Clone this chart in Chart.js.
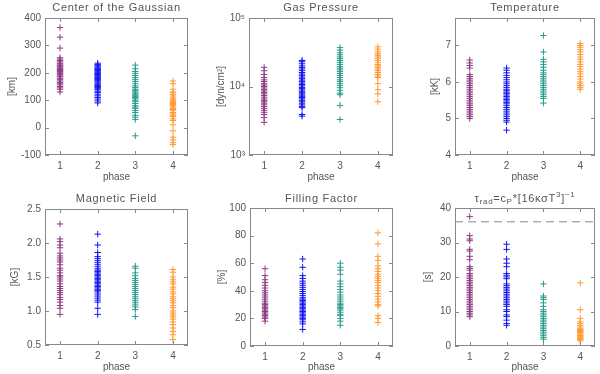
<!DOCTYPE html>
<html>
<head>
<meta charset="utf-8">
<script src="https://cdn.jsdelivr.net/npm/chart.js@4/dist/chart.umd.min.js"></script>
<style>
  body { margin: 0; background: #fff; }
  #wrap { position: relative; width: 600px; height: 374px; }
  canvas { position: absolute; }
</style>
</head>
<body>
<div id="wrap">
  <canvas id="p1" width="200" height="187" style="left:0;top:0"></canvas>
  <canvas id="p2" width="200" height="187" style="left:200px;top:0"></canvas>
  <canvas id="p3" width="200" height="187" style="left:400px;top:0"></canvas>
  <canvas id="p4" width="200" height="187" style="left:0;top:187px"></canvas>
  <canvas id="p5" width="200" height="187" style="left:200px;top:187px"></canvas>
  <canvas id="p6" width="200" height="187" style="left:400px;top:187px"></canvas>
</div>
<script>
const phases = [1, 2, 3, 4];
const phaseColors = ['#8e3b84', '#1414f0', '#2a9a8c', '#ff9933'];

// Center of the Gaussian [km]
const centerPh1 = [365, 330, 290, 255, 250, 245, 240, 235, 232, 228, 225, 222, 218, 215, 212, 208, 205, 202, 198, 195, 192, 188, 185, 180, 175, 170, 165, 160, 156, 150, 145, 140, 130];
const centerPh2 = [235, 230, 226, 222, 218, 215, 212, 209, 206, 203, 200, 197, 194, 191, 188, 185, 182, 179, 176, 173, 170, 166, 162, 158, 154, 150, 146, 142, 138, 133, 128, 122, 116, 110, 104, 97, 90];
const centerPh3 = [228, 215, 205, 198, 190, 182, 175, 168, 160, 152, 146, 140, 135, 130, 126, 122, 118, 114, 110, 105, 100, 95, 88, 80, 75, 70, 62, 55, 45, 38, 30, -30];
const centerPh4 = [170, 160, 140, 130, 127, 120, 115, 108, 104, 100, 96, 92, 88, 84, 80, 75, 70, 66, 62, 55, 50, 45, 40, 32, 26, 10, -12, -35, -45, -55, -62];

// Gas pressure [dyn/cm2]
const pressPh1 = [19000, 17000, 15000, 13500, 12500, 11800, 11000, 10500, 10000, 9500, 9000, 8600, 8200, 7800, 7400, 7000, 6600, 6300, 6000, 5700, 5400, 5100, 4800, 4500, 4200, 3900, 3500, 3000];
const pressPh2 = [24000, 23000, 21500, 20000, 19000, 18000, 17000, 16000, 15200, 14400, 13700, 13000, 12400, 11800, 11200, 10700, 10200, 9700, 9300, 8900, 8500, 8100, 7800, 7500, 7200, 6900, 6600, 6300, 6000, 5700, 5400, 5100, 4900, 3900, 3700];
const pressPh3 = [37000, 34000, 31000, 29000, 27000, 25500, 24000, 22500, 21000, 19500, 18500, 17500, 16500, 15500, 14500, 13500, 12500, 11800, 11000, 10300, 9600, 8800, 8000, 7600, 5300, 3300];
const pressPh4 = [38000, 35000, 32000, 30000, 28500, 27000, 25500, 24000, 22500, 21000, 20000, 19000, 18000, 17000, 16000, 15000, 14200, 13500, 11000, 9000, 7800, 6000];

// Temperature [kK]
const tempPh1 = [6.6, 6.52, 6.45, 6.38, 6.2, 6.15, 6.1, 6.05, 6.0, 5.95, 5.9, 5.85, 5.8, 5.75, 5.7, 5.65, 5.6, 5.55, 5.5, 5.45, 5.4, 5.35, 5.3, 5.25, 5.2, 5.15, 5.1, 5.05, 5.0];
const tempPh2 = [6.38, 6.32, 6.25, 6.18, 6.12, 6.06, 6.0, 5.95, 5.9, 5.85, 5.8, 5.76, 5.72, 5.68, 5.64, 5.6, 5.56, 5.52, 5.48, 5.44, 5.4, 5.35, 5.3, 5.25, 5.2, 5.15, 5.1, 5.05, 5.0, 4.95, 4.9, 4.68];
const tempPh3 = [7.27, 6.82, 6.62, 6.55, 6.48, 6.4, 6.32, 6.25, 6.2, 6.15, 6.1, 6.05, 6.0, 5.95, 5.9, 5.85, 5.8, 5.75, 5.7, 5.65, 5.6, 5.55, 5.42];
const tempPh4 = [7.05, 7.0, 6.95, 6.88, 6.82, 6.75, 6.68, 6.62, 6.55, 6.48, 6.42, 6.35, 6.28, 6.22, 6.15, 6.08, 6.0, 5.95, 5.9, 5.85, 5.8];

// Magnetic field [kG]
const fieldPh1 = [2.28, 2.06, 2.02, 1.97, 1.93, 1.85, 1.81, 1.78, 1.75, 1.72, 1.68, 1.63, 1.6, 1.56, 1.52, 1.5, 1.47, 1.44, 1.4, 1.36, 1.33, 1.3, 1.27, 1.24, 1.2, 1.17, 1.13, 1.08, 1.04, 0.95];
const fieldPh2 = [2.13, 1.97, 1.86, 1.8, 1.77, 1.74, 1.71, 1.68, 1.65, 1.62, 1.6, 1.58, 1.56, 1.54, 1.52, 1.5, 1.48, 1.46, 1.44, 1.42, 1.4, 1.38, 1.36, 1.34, 1.32, 1.3, 1.28, 1.25, 1.22, 1.19, 1.16, 1.13, 1.04, 0.95];
const fieldPh3 = [1.66, 1.63, 1.56, 1.52, 1.48, 1.45, 1.42, 1.39, 1.36, 1.33, 1.3, 1.27, 1.24, 1.21, 1.18, 1.15, 1.12, 1.09, 1.06, 1.02, 0.92];
const fieldPh4 = [1.61, 1.57, 1.5, 1.46, 1.43, 1.4, 1.35, 1.32, 1.28, 1.25, 1.21, 1.18, 1.15, 1.12, 1.08, 1.05, 1.0, 0.97, 0.94, 0.91, 0.88, 0.84, 0.8, 0.75, 0.7, 0.65, 0.58];

// Filling factor [%]
const fillPh1 = [56, 51, 48, 46, 44, 42, 40, 38.5, 37, 35.5, 34, 32.5, 31, 30, 29, 28, 27, 26, 25, 24, 23, 22, 21, 20, 18];
const fillPh2 = [63, 57, 51, 49, 47, 45.5, 44, 42.5, 41, 39.5, 38, 36.5, 35, 34, 33, 32, 31, 30, 29, 28, 27, 26, 25, 24, 23, 22, 21, 20, 19, 17.5, 16, 12];
const fillPh3 = [60, 57, 55, 52, 47, 45, 43, 41, 39, 37, 35.5, 34, 32.5, 31, 30, 29, 28, 27, 26, 24.5, 23, 22, 20, 18, 15];
const fillPh4 = [82, 74, 65, 62, 58, 56, 54, 52, 50.5, 49, 47.5, 46, 44, 42, 40, 38, 36, 34, 32, 30, 29, 22, 20, 17];

// Radiative cooling time [s]
const tauPh1 = [37.5, 32, 31, 30.5, 28, 27.5, 26, 25, 23, 22.5, 22, 21, 20.5, 20, 19.5, 19, 18.5, 18, 17.5, 17, 16.5, 16, 15.5, 15, 14.5, 14, 13.5, 13, 12.5, 12, 11.5, 11, 10.5, 10, 9.5, 9, 8.5];
const tauPh2 = [29.5, 28, 25.2, 24, 23, 21, 20.5, 20, 19.5, 18, 17.5, 17, 16.5, 16, 15.5, 15, 14.5, 14, 13.5, 13, 12.5, 12, 11.5, 10.5, 10, 9, 8.5, 7.5, 6.5, 6];
const tauPh3 = [18, 14.5, 14, 13.5, 12.5, 11.5, 10.5, 10, 9.5, 9, 8.5, 8, 7.5, 7, 6.5, 6, 5.5, 5, 4.5, 4, 3.5, 3, 2.5, 2];
const tauPh4 = [18.3, 10.5, 8, 7, 6.5, 6, 5.5, 5, 4.8, 4.5, 4.2, 4, 3.8, 3.5, 3.2, 3, 2.8, 2.5, 2.2, 2, 1.8, 1.5];
const tauLimit = 36;

const textColor = '#555';
const axisColor = '#888';
const fontFam = '"Liberation Sans", Arial, sans-serif';

// box around plot area with inward ticks (IDL style) + rich-text title
const framePlugin = {
  id: 'frame',
  afterDraw(chart) {
    const { ctx, chartArea: a, scales: { x, y } } = chart;
    const o = chart.options.plugins.frame;
    ctx.save();
    ctx.strokeStyle = axisColor;
    ctx.lineWidth = 1;
    ctx.strokeRect(a.left + 0.5, a.top + 0.5, a.right - a.left - 1, a.bottom - a.top - 1);
    ctx.beginPath();
    x.ticks.forEach(t => {
      const px = Math.round(x.getPixelForValue(t.value)) + 0.5;
      ctx.moveTo(px, a.bottom); ctx.lineTo(px, a.bottom - 4);
      ctx.moveTo(px, a.top); ctx.lineTo(px, a.top + 4);
    });
    y.ticks.forEach(t => {
      const py = Math.round(y.getPixelForValue(t.value)) + 0.5;
      ctx.moveTo(a.left, py); ctx.lineTo(a.left + 4, py);
      ctx.moveTo(a.right, py); ctx.lineTo(a.right - 4, py);
    });
    ctx.stroke();

    // title, pieces can be sub/superscript
    const big = 11, small = 8;
    ctx.fillStyle = textColor;
    ctx.textBaseline = 'middle';
    ctx.letterSpacing = '0.7px';
    let w = 0;
    o.title.forEach(s => {
      ctx.font = (s.k ? small : big) + 'px ' + fontFam;
      w += ctx.measureText(s.t).width;
    });
    let cx = (a.left + a.right) / 2 - w / 2;
    o.title.forEach(s => {
      ctx.font = (s.k ? small : big) + 'px ' + fontFam;
      const dy = s.k === 'sub' ? 3 : s.k === 'sup' ? -4 : 0;
      ctx.fillText(s.t, cx, o.titleY + dy);
      cx += ctx.measureText(s.t).width;
    });
    ctx.restore();
  }
};

function makePanel(id, cfg) {
  const datasets = cfg.series.map((vals, i) => ({
    type: 'scatter',
    label: 'phase ' + phases[i],
    data: vals.map(v => ({ x: phases[i], y: v })),
    borderColor: phaseColors[i],
    backgroundColor: phaseColors[i],
    pointStyle: 'cross',
    pointRadius: 3.2,
    borderWidth: 1
  }));
  if (cfg.extra) datasets.push(cfg.extra);

  new Chart(document.getElementById(id), {
    type: 'scatter',
    data: { datasets: datasets },
    plugins: [framePlugin],
    options: {
      responsive: false,
      animation: false,
      events: [],
      layout: { padding: { top: cfg.box.top, right: 200 - cfg.box.right, left: 0, bottom: 0 } },
      plugins: {
        legend: { display: false },
        tooltip: { enabled: false },
        frame: { title: cfg.title, titleY: cfg.titleY }
      },
      scales: {
        x: {
          type: 'linear',
          min: 0.6,
          max: 4.4,
          afterBuildTicks: s => { s.ticks = phases.map(v => ({ value: v })); },
          afterFit: s => { s.height = 187 - cfg.box.bottom; },
          grid: { display: false, drawTicks: false },
          border: { display: false },
          ticks: { color: textColor, font: { family: fontFam, size: 10 }, padding: 5, callback: v => String(v) },
          title: { display: true, text: 'phase', color: textColor, font: { family: fontFam, size: 10 }, padding: { top: 0, bottom: cfg.xTitlePad } }
        },
        y: {
          type: cfg.yType || 'linear',
          min: cfg.yMin,
          max: cfg.yMax,
          afterBuildTicks: s => { s.ticks = cfg.yTicks.map(v => ({ value: v })); },
          afterFit: s => { s.width = cfg.box.left; },
          grid: { display: false, drawTicks: false },
          border: { display: false },
          ticks: { color: textColor, font: { family: fontFam, size: 10 }, padding: 4, callback: cfg.yFormat || (v => String(v)) },
          title: { display: true, text: cfg.yLabel, color: textColor, font: { family: fontFam, size: 10 }, padding: { top: cfg.yTitlePad, bottom: 0 } }
        }
      }
    }
  });
}

const powerLabels = { 1000: '10³', 10000: '10⁴', 100000: '10⁵' };

makePanel('p1', {
  title: [{ t: 'Center of the Gaussian' }], titleY: 8,
  box: { left: 45, right: 188, top: 18, bottom: 155 },
  yLabel: '[km]', yTitlePad: 6, xTitlePad: 4,
  yMin: -100, yMax: 400, yTicks: [-100, 0, 100, 200, 300, 400],
  series: [centerPh1, centerPh2, centerPh3, centerPh4]
});
makePanel('p2', {
  title: [{ t: 'Gas Pressure' }], titleY: 8,
  box: { left: 49, right: 193, top: 18, bottom: 155 },
  yLabel: '[dyn/cm²]', yTitlePad: 15, xTitlePad: 4,
  yType: 'logarithmic', yMin: 1000, yMax: 100000, yTicks: [1000, 10000, 100000],
  yFormat: v => powerLabels[v] || '',
  series: [pressPh1, pressPh2, pressPh3, pressPh4]
});
makePanel('p3', {
  title: [{ t: 'Temperature' }], titleY: 8,
  box: { left: 55, right: 199, top: 18, bottom: 155 },
  yLabel: '[kK]', yTitlePad: 29, xTitlePad: 4,
  yMin: 4, yMax: 7.75, yTicks: [4, 5, 6, 7],
  series: [tempPh1, tempPh2, tempPh3, tempPh4]
});
makePanel('p4', {
  title: [{ t: 'Magnetic Field' }], titleY: 12,
  box: { left: 45, right: 188, top: 22, bottom: 158 },
  yLabel: '[kG]', yTitlePad: 9, xTitlePad: 1,
  yMin: 0.5, yMax: 2.5, yTicks: [0.5, 1, 1.5, 2, 2.5],
  yFormat: v => v.toFixed(1),
  series: [fieldPh1, fieldPh2, fieldPh3, fieldPh4]
});
makePanel('p5', {
  title: [{ t: 'Filling Factor' }], titleY: 12,
  box: { left: 50, right: 193, top: 21, bottom: 159 },
  yLabel: '[%]', yTitlePad: 16, xTitlePad: 1,
  yMin: 0, yMax: 100, yTicks: [0, 20, 40, 60, 80, 100],
  series: [fillPh1, fillPh2, fillPh3, fillPh4]
});
makePanel('p6', {
  title: [{ t: 'τ' }, { t: 'rad', k: 'sub' }, { t: '=c' }, { t: 'P', k: 'sub' }, { t: '*[16κσT' }, { t: '3', k: 'sup' }, { t: ']' }, { t: '−1', k: 'sup' }],
  titleY: 12,
  box: { left: 55, right: 199, top: 21, bottom: 159 },
  yLabel: '[s]', yTitlePad: 22, xTitlePad: 1,
  yMin: 0, yMax: 40, yTicks: [0, 10, 20, 30, 40],
  series: [tauPh1, tauPh2, tauPh3, tauPh4],
  extra: {
    type: 'line',
    label: 'limit',
    data: [{ x: 0.6, y: tauLimit }, { x: 4.4, y: tauLimit }],
    borderColor: '#888',
    borderWidth: 1,
    borderDash: [8, 5],
    pointRadius: 0,
    showLine: true
  }
});
</script>
</body>
</html>
